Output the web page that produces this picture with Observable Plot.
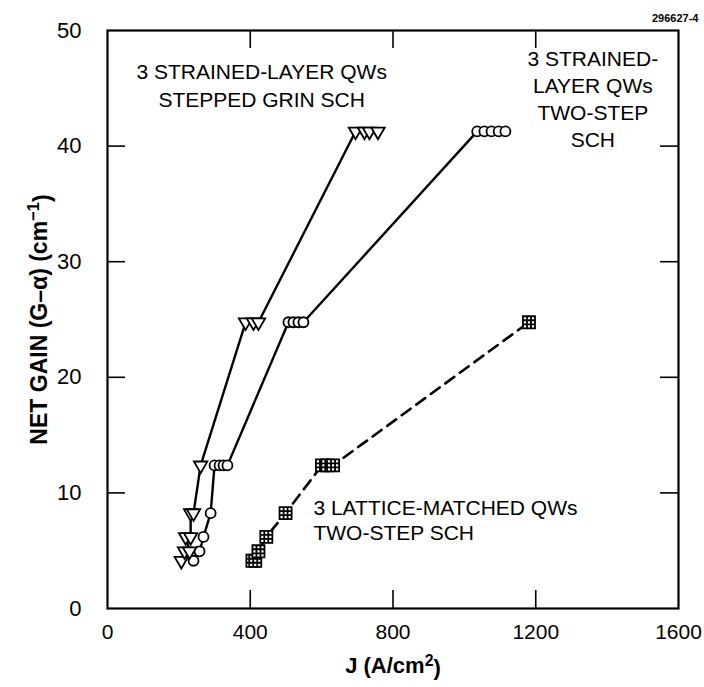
<!DOCTYPE html>
<html><head><meta charset="utf-8">
<script src="https://cdn.jsdelivr.net/npm/d3@7"></script>
<script src="https://cdn.jsdelivr.net/npm/@observablehq/plot@0.6"></script>
<style>body{margin:0;background:#fff;} svg{display:block;} </style>
</head><body><div id="chart"></div>
<script>
// ---- data ----
// 3 strained-layer QWs, stepped GRIN SCH (inverted triangles)
const grinJ = [207, 216, 230, 219, 233, 233, 241, 261, 387, 409, 423, 695, 720, 734, 758];
const grinG = [4.13, 4.95, 4.95, 6.19, 6.19, 8.25, 8.25, 12.38, 24.76, 24.76, 24.76, 41.27, 41.27, 41.27, 41.27];
// 3 strained-layer QWs, two-step SCH (circles)
const twoStepJ = [241, 258, 269, 289, 300, 314, 325, 336, 507, 521, 535, 549, 1036, 1056, 1076, 1096, 1115];
const twoStepG = [4.13, 4.95, 6.19, 8.25, 12.38, 12.38, 12.38, 12.38, 24.76, 24.76, 24.76, 24.76, 41.27, 41.27, 41.27, 41.27, 41.27];
// 3 lattice-matched QWs, two-step SCH (gridded squares)
const latticeJ = [406, 414, 423, 445, 499, 601, 616, 632, 1181];
const latticeG = [4.13, 4.13, 4.95, 6.19, 8.25, 12.38, 12.38, 12.38, 24.76];

const xTicks = [0, 400, 800, 1200, 1600];
const yTicks = [0, 10, 20, 30, 40, 50];
const xInnerTicks = [400, 800, 1200];
const yInnerTicks = [10, 20, 30, 40];

const centeredLabels = [
  {text: "3 STRAINED-LAYER QWs", x: 432, y: 46.4},
  {text: "STEPPED GRIN SCH", x: 432, y: 44.0},
  {text: "3 STRAINED-", x: 1360, y: 47.5},
  {text: "LAYER QWs", x: 1360, y: 45.2},
  {text: "TWO-STEP", x: 1360, y: 42.8},
  {text: "SCH", x: 1360, y: 40.5}
];
const leftLabels = [
  {text: "3 LATTICE-MATCHED QWs", x: 577, y: 8.65},
  {text: "TWO-STEP SCH", x: 577, y: 6.5}
];

// ---- build tables ----
const rows = (J, G) => d3.sort(J.map((j, i) => ({j, g: G[i]})), d => d.g, d => d.j);
const grin = rows(grinJ, grinG);
const twoStep = rows(twoStepJ, twoStepG);
const lattice = rows(latticeJ, latticeG);

// custom gridded-square symbol
const gridSquare = {
  draw(ctx, size) {
    const s = Math.sqrt(size), h = s / 2;
    ctx.moveTo(-h, -h); ctx.lineTo(h, -h); ctx.lineTo(h, h); ctx.lineTo(-h, h); ctx.closePath();
    for (const f of [-1/6, 1/6]) {
      ctx.moveTo(-h, f * s); ctx.lineTo(h, f * s);
      ctx.moveTo(f * s, -h); ctx.lineTo(f * s, h);
    }
  }
};

const W = 704, H = 687;
const mL = 107, mR = 26, mT = 30, mB = 79;
const fw = W - mL - mR, fh = H - mT - mB, tick = 18;
const font = "'Liberation Sans', Arial, Helvetica, sans-serif";

const chart = Plot.plot({
  width: W, height: H,
  marginLeft: mL, marginRight: mR, marginTop: mT, marginBottom: mB,
  style: {fontFamily: font, background: "white", color: "black"},
  x: {domain: [0, 1600]},
  y: {domain: [0, 50]},
  marks: [
    // inner ticks on all four sides
    Plot.ruleX(xInnerTicks, {x: d => d, insetTop: fh - tick, stroke: "black", strokeWidth: 1.6}),
    Plot.ruleX(xInnerTicks, {x: d => d, insetBottom: fh - tick, stroke: "black", strokeWidth: 1.6}),
    Plot.ruleY(yInnerTicks, {y: d => d, insetRight: fw - tick, stroke: "black", strokeWidth: 1.6}),
    Plot.ruleY(yInnerTicks, {y: d => d, insetLeft: fw - tick, stroke: "black", strokeWidth: 1.6}),
    Plot.frame({stroke: "black", strokeWidth: 2.2}),
    Plot.axisX(xTicks, {tickSize: 0, tickPadding: 16, fontSize: 21, label: null, tickFormat: d3.format("d")}),
    Plot.axisY(yTicks, {tickSize: 0, tickPadding: 26, fontSize: 22, label: null, tickFormat: d3.format("d")}),
    // connecting lines
    Plot.line(lattice, {x: "j", y: "g", stroke: "black", strokeWidth: 2.6, strokeDasharray: "11,7"}),
    Plot.line(twoStep, {x: "j", y: "g", stroke: "black", strokeWidth: 2.4}),
    Plot.line(grin, {x: "j", y: "g", stroke: "black", strokeWidth: 2.4}),
    // markers
    Plot.dot(twoStep, {x: "j", y: "g", symbol: "circle", r: 5, fill: "white", stroke: "black", strokeWidth: 1.8}),
    Plot.dot(grin, {x: "j", y: "g", symbol: "triangle", rotate: 180, r: 5, fill: "white", stroke: "black", strokeWidth: 1.8}),
    Plot.dot(lattice, {x: "j", y: "g", symbol: gridSquare, r: 6.8, fill: "white", stroke: "black", strokeWidth: 1.8}),
    // annotations
    Plot.text(centeredLabels, {x: "x", y: "y", text: "text", textAnchor: "middle", fontSize: 21, fill: "black"}),
    Plot.text(leftLabels, {x: "x", y: "y", text: "text", textAnchor: "start", fontSize: 21, fill: "black"}),
    Plot.text(["296627-4"], {frameAnchor: "top-right", dx: 20, dy: -16, fontSize: 11, fontWeight: "bold", textAnchor: "end", fill: "black"}),
    Plot.text(["J (A/cm2)"], {frameAnchor: "bottom", dy: 64, fontSize: 22, fontWeight: "bold", textAnchor: "middle", fill: "black"}),
    Plot.text(["NET GAIN (G\u2013\u03b1) (cm-1)"], {frameAnchor: "left", dx: -68, rotate: -90, fontSize: 23, fontWeight: "bold", textAnchor: "middle", fill: "black"})
  ]
});

// superscripts in axis titles
d3.select(chart).selectAll("text").each(function() {
  const t = d3.select(this);
  const s = t.text();
  if (s === "J (A/cm2)") {
    t.text(null);
    t.append("tspan").text("J (A/cm");
    t.append("tspan").attr("dy", "-0.4em").attr("font-size", "0.72em").text("2");
    t.append("tspan").attr("dy", "0.4em").text(")");
  } else if (s === "NET GAIN (G\u2013\u03b1) (cm-1)") {
    t.text(null);
    t.append("tspan").text("NET GAIN (G\u2013\u03b1) (cm");
    t.append("tspan").attr("dy", "-0.45em").attr("font-size", "0.72em").text("\u22121");
    t.append("tspan").attr("dy", "0.45em").text(")");
  }
});
document.getElementById("chart").append(chart);
</script>
</body></html>
